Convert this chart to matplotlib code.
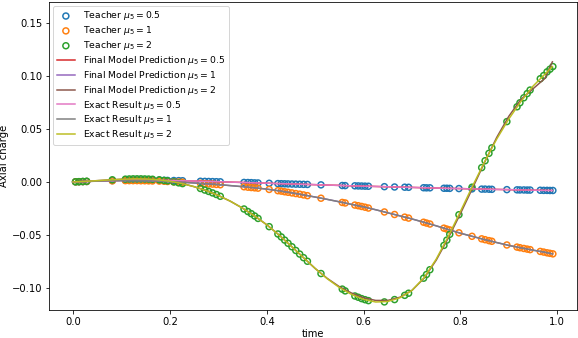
import matplotlib
matplotlib.use("Agg")
import matplotlib.pyplot as plt
import numpy as np

# teacher sample times (shared by all three series)
t_teacher = [0.005, 0.012, 0.020, 0.028, 0.081, 0.108, 0.116, 0.124, 0.132, 0.140,
             0.148, 0.156, 0.164, 0.178, 0.188, 0.195, 0.208, 0.218, 0.226, 0.263,
             0.272, 0.280, 0.288, 0.296, 0.304, 0.353, 0.361, 0.368, 0.375, 0.382,
             0.405, 0.423, 0.430, 0.437, 0.444, 0.452, 0.460, 0.468, 0.476, 0.484,
             0.512, 0.556, 0.562, 0.582, 0.589, 0.596, 0.603, 0.610, 0.643, 0.664,
             0.685, 0.693, 0.724, 0.730, 0.737, 0.766, 0.772, 0.778, 0.797, 0.824,
             0.844, 0.851, 0.859, 0.865, 0.896, 0.917, 0.923, 0.931, 0.938, 0.944,
             0.965, 0.972, 0.979, 0.985, 0.991]

teacher_05 = [0.0001, 0.0002, 0.0003, 0.0004, 0.0013, 0.0016, 0.0016, 0.0017, 0.0017, 0.0017,
              0.0017, 0.0017, 0.0017, 0.0016, 0.0015, 0.0014, 0.0013, 0.0012, 0.0011, 0.0006,
              0.0005, 0.0004, 0.0003, 0.0002, 0.0001, -0.0005, -0.0006, -0.0007, -0.0009, -0.0010,
              -0.0013, -0.0016, -0.0017, -0.0018, -0.0019, -0.0020, -0.0021, -0.0022, -0.0023, -0.0024,
              -0.0028, -0.0034, -0.0035, -0.0037, -0.0038, -0.0039, -0.0040, -0.0041, -0.0045, -0.0048,
              -0.0050, -0.0051, -0.0055, -0.0056, -0.0056, -0.0060, -0.0060, -0.0061, -0.0063, -0.0066,
              -0.0068, -0.0068, -0.0069, -0.0070, -0.0073, -0.0075, -0.0076, -0.0076, -0.0077, -0.0077,
              -0.0079, -0.0080, -0.0080, -0.0081, -0.0081]

teacher_1 = [0.0001, 0.0002, 0.0003, 0.0004, 0.0010, 0.0012, 0.0012, 0.0012, 0.0012, 0.0011,
             0.0011, 0.0010, 0.0009, 0.0008, 0.0006, 0.0004, 0.0001, -0.0001, -0.0003, -0.0013,
             -0.0016, -0.0019, -0.0021, -0.0024, -0.0027, -0.0046, -0.0050, -0.0053, -0.0056, -0.0059,
             -0.0071, -0.0083, -0.0087, -0.0093, -0.0098, -0.0104, -0.0110, -0.0116, -0.0123, -0.0130,
             -0.0154, -0.0194, -0.0199, -0.0219, -0.0225, -0.0232, -0.0239, -0.0247, -0.0284, -0.0308,
             -0.0333, -0.0342, -0.0381, -0.0389, -0.0398, -0.0437, -0.0446, -0.0454, -0.0481, -0.0514,
             -0.0538, -0.0546, -0.0555, -0.0561, -0.0596, -0.0616, -0.0622, -0.0629, -0.0635, -0.0640,
             -0.0657, -0.0663, -0.0670, -0.0675, -0.0680]

teacher_2 = [0.0001, 0.0002, 0.0004, 0.0006, 0.0020, 0.0026, 0.0028, 0.0029, 0.0029, 0.0029,
             0.0028, 0.0027, 0.0025, 0.0020, 0.0014, 0.0010, 0.0000, -0.0009, -0.0016, -0.0062,
             -0.0077, -0.0090, -0.0104, -0.0119, -0.0136, -0.0256, -0.0280, -0.0300, -0.0322, -0.0345,
             -0.0423, -0.0492, -0.0520, -0.0550, -0.0580, -0.0613, -0.0648, -0.0682, -0.0716, -0.0750,
             -0.0866, -0.1013, -0.1030, -0.1078, -0.1090, -0.1103, -0.1113, -0.1122, -0.1134, -0.1112,
             -0.1072, -0.1052, -0.0910, -0.0875, -0.0830, -0.0600, -0.0550, -0.0495, -0.0310, -0.0050,
             0.0135, 0.0200, 0.0270, 0.0322, 0.0570, 0.0710, 0.0748, 0.0795, 0.0835, 0.0868,
             0.0975, 0.1005, 0.1040, 0.1065, 0.1090]

# curve time grid
t_curve = [0.0, 0.025, 0.05, 0.075, 0.1, 0.125, 0.15, 0.175, 0.2, 0.225,
           0.25, 0.275, 0.3, 0.325, 0.35, 0.375, 0.4, 0.425, 0.45, 0.475,
           0.5, 0.525, 0.55, 0.575, 0.6, 0.625, 0.65, 0.675, 0.7, 0.725,
           0.75, 0.775, 0.8, 0.825, 0.85, 0.875, 0.9, 0.925, 0.95, 0.975, 0.99]

exact_05 = [0.0, 0.0004, 0.0008, 0.0012, 0.0015, 0.0017, 0.0017, 0.0016, 0.0014, 0.0011,
            0.0008, 0.0005, 0.0002, -0.0002, -0.0005, -0.0009, -0.0012, -0.0016, -0.0019, -0.0023,
            -0.0026, -0.0030, -0.0033, -0.0037, -0.0040, -0.0043, -0.0046, -0.0049, -0.0052, -0.0055,
            -0.0058, -0.0061, -0.0063, -0.0066, -0.0068, -0.0071, -0.0073, -0.0076, -0.0078, -0.0080, -0.0081]

exact_1 = [0.0, 0.0004, 0.0007, 0.0010, 0.0012, 0.0012, 0.0011, 0.0008, 0.0003, -0.0003,
           -0.0010, -0.0017, -0.0025, -0.0035, -0.0045, -0.0056, -0.0068, -0.0084, -0.0102, -0.0122,
           -0.0143, -0.0165, -0.0188, -0.0212, -0.0236, -0.0263, -0.0292, -0.0321, -0.0350, -0.0382,
           -0.0415, -0.0450, -0.0485, -0.0515, -0.0545, -0.0573, -0.0600, -0.0623, -0.0645, -0.0665, -0.0680]

exact_2 = [0.0, 0.0005, 0.0012, 0.0019, 0.0025, 0.0029, 0.0028, 0.0021, 0.0006, -0.0015,
           -0.0045, -0.0082, -0.0128, -0.0183, -0.0248, -0.0322, -0.0405, -0.0500, -0.0605, -0.0712,
           -0.0818, -0.0915, -0.0998, -0.1063, -0.1110, -0.1135, -0.1130, -0.1095, -0.1025, -0.0905,
           -0.0730, -0.0515, -0.0280, -0.0040, 0.0190, 0.0405, 0.0595, 0.0760, 0.0905, 0.1020, 0.1090]

pred_05 = [0.0, 0.0004, 0.0008, 0.0012, 0.0015, 0.0017, 0.0017, 0.0016, 0.0014, 0.0011,
           0.0008, 0.0005, 0.0002, -0.0002, -0.0005, -0.0009, -0.0012, -0.0016, -0.0019, -0.0023,
           -0.0026, -0.0030, -0.0033, -0.0037, -0.0040, -0.0043, -0.0046, -0.0049, -0.0052, -0.0055,
           -0.0058, -0.0061, -0.0063, -0.0066, -0.0068, -0.0071, -0.0073, -0.0076, -0.0078, -0.0080, -0.0081]

pred_1 = [0.0, 0.0004, 0.0007, 0.0010, 0.0012, 0.0012, 0.0011, 0.0008, 0.0003, -0.0003,
          -0.0010, -0.0017, -0.0025, -0.0035, -0.0045, -0.0056, -0.0068, -0.0084, -0.0102, -0.0122,
          -0.0143, -0.0165, -0.0188, -0.0212, -0.0236, -0.0263, -0.0292, -0.0321, -0.0350, -0.0382,
          -0.0415, -0.0450, -0.0485, -0.0515, -0.0545, -0.0573, -0.0600, -0.0623, -0.0645, -0.0665, -0.0680]

pred_2 = [0.0, 0.0005, 0.0012, 0.0019, 0.0025, 0.0029, 0.0028, 0.0021, 0.0006, -0.0015,
          -0.0045, -0.0082, -0.0128, -0.0183, -0.0248, -0.0322, -0.0405, -0.0500, -0.0605, -0.0712,
          -0.0818, -0.0912, -0.0990, -0.1050, -0.1095, -0.1120, -0.1120, -0.1090, -0.1025, -0.0910,
          -0.0740, -0.0530, -0.0300, -0.0060, 0.0185, 0.0420, 0.0620, 0.0780, 0.0880, 0.0980, 0.1135]

mu_labels = ["0.5", "1", "2"]

fig, ax = plt.subplots(figsize=(578 / 72, 338 / 72), dpi=72)
fig.subplots_adjust(left=0.085, right=0.998, top=0.994, bottom=0.083)

teacher = [teacher_05, teacher_1, teacher_2]
preds = [pred_05, pred_1, pred_2]
exacts = [exact_05, exact_1, exact_2]

for i, (y, mu) in enumerate(zip(teacher, mu_labels)):
    ax.scatter(t_teacher, y, s=36, facecolors='none', edgecolors='C%d' % i,
               linewidths=1.5, label=r'Teacher $\mu_5 = %s$' % mu)
for i, (y, mu) in enumerate(zip(preds, mu_labels)):
    ax.plot(t_curve, y, color='C%d' % (i + 3), lw=1.5,
            label=r'Final Model Prediction $\mu_5 = %s$' % mu)
for i, (y, mu) in enumerate(zip(exacts, mu_labels)):
    ax.plot(t_curve, y, color='C%d' % (i + 6), lw=1.5,
            label=r'Exact Result $\mu_5 = %s$' % mu)

ax.set_ylim(-0.121, 0.170)
ax.set_xlabel('time', labelpad=2)
ax.set_ylabel('Axial charge', labelpad=3)
ax.legend(loc='upper left', fontsize=9.3, labelspacing=0.2, borderaxespad=0.4)

fig.savefig('out.png', dpi=72)
